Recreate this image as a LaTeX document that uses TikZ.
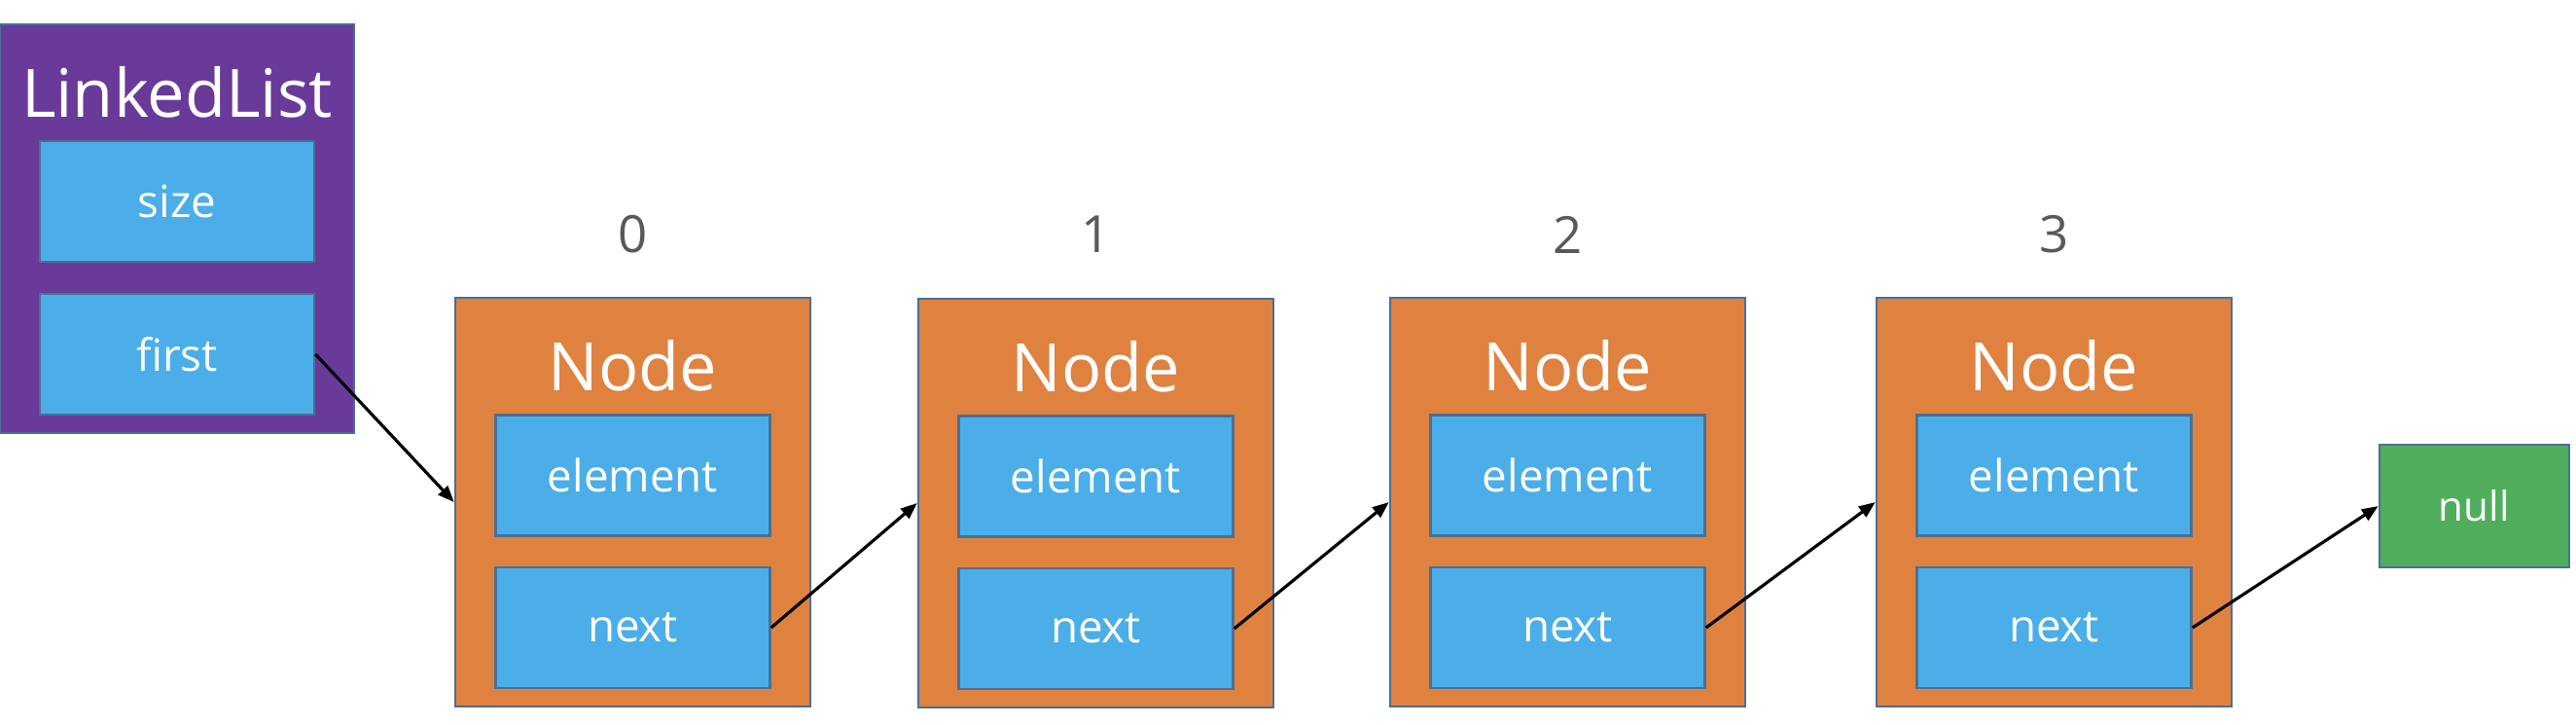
\documentclass[tikz,border=0pt]{standalone}
\usepackage{fontspec}
\setmainfont{Open Sans}
\usetikzlibrary{arrows.meta}
\definecolor{llpurple}{HTML}{6A3A9B}
\definecolor{ndorange}{HTML}{E0823F}
\definecolor{fdblue}{HTML}{4BAEE9}
\definecolor{nlgreen}{HTML}{50AD5B}
\definecolor{bdblue}{HTML}{4A6F96}
\definecolor{idxgray}{HTML}{595959}
\tikzset{
	box/.style={draw=bdblue, line width=0.7pt, inner sep=0pt, text=white},
	listbox/.style={box, fill=llpurple, minimum width=3.64cm, minimum height=4.2cm},
	nodebox/.style={box, fill=ndorange, minimum width=3.65cm, minimum height=4.2cm},
	fieldbox/.style={box, fill=fdblue, minimum width=2.82cm, minimum height=1.24cm, font=\fontsize{13}{15}\selectfont},
	nullbox/.style={box, fill=nlgreen, minimum width=1.95cm, minimum height=1.26cm, font=\fontsize{12}{14}\selectfont},
	titletext/.style={inner sep=0pt, text=white, font=\fontsize{19.5}{23}\selectfont},
	idxtext/.style={inner sep=0pt, text=idxgray, font=\fontsize{15}{18}\selectfont},
	link/.style={line width=0.9pt, -{Triangle[length=4.8pt,width=3.7pt]}}
}
\begin{document}
\begin{tikzpicture}
	%%%%% START %%%%%
	\useasboundingbox (0, 0) rectangle (26.48, -7.44);
	
	% the list itself
	\node[listbox] (ll) at (1.82, -2.35) {};
	\node[titletext] (lltitle) at (1.82, -0.95) {LinkedList};
	\node[fieldbox] (llsize) at (1.82, -2.07) {size};
	\node[fieldbox] (llfirst) at (1.82, -3.64) {first};
	
	% node 0
	\node[idxtext] (idx0) at (6.505, -2.41) {0};
	\node[nodebox] (nd0) at (6.505, -5.16) {};
	\node[titletext] (ttl0) at (6.505, -3.755) {Node};
	\node[fieldbox] (el0) at (6.505, -4.885) {element};
	\node[fieldbox] (nx0) at (6.505, -6.45) {next};
	
	% node 1
	\node[idxtext] (idx1) at (11.265, -2.41) {1};
	\node[nodebox] (nd1) at (11.265, -5.17) {};
	\node[titletext] (ttl1) at (11.265, -3.765) {Node};
	\node[fieldbox] (el1) at (11.265, -4.895) {element};
	\node[fieldbox] (nx1) at (11.265, -6.46) {next};
	
	% node 2
	\node[idxtext] (idx2) at (16.115, -2.41) {2};
	\node[nodebox] (nd2) at (16.115, -5.16) {};
	\node[titletext] (ttl2) at (16.115, -3.755) {Node};
	\node[fieldbox] (el2) at (16.115, -4.885) {element};
	\node[fieldbox] (nx2) at (16.115, -6.45) {next};
	
	% node 3
	\node[idxtext] (idx3) at (21.115, -2.41) {3};
	\node[nodebox] (nd3) at (21.115, -5.16) {};
	\node[titletext] (ttl3) at (21.115, -3.755) {Node};
	\node[fieldbox] (el3) at (21.115, -4.885) {element};
	\node[fieldbox] (nx3) at (21.115, -6.45) {next};
	
	% end of the list
	\node[nullbox] (nil) at (25.435, -5.20) {null};
	
	% links
	\draw[link] (llfirst.east) -- (nd0.west);
	\draw[link] (nx0.east) -- (nd1.west);
	\draw[link] (nx1.east) -- (nd2.west);
	\draw[link] (nx2.east) -- (nd3.west);
	\draw[link] (nx3.east) -- (nil.west);
	
	%%%%% END %%%%%
\end{tikzpicture}
\end{document}
